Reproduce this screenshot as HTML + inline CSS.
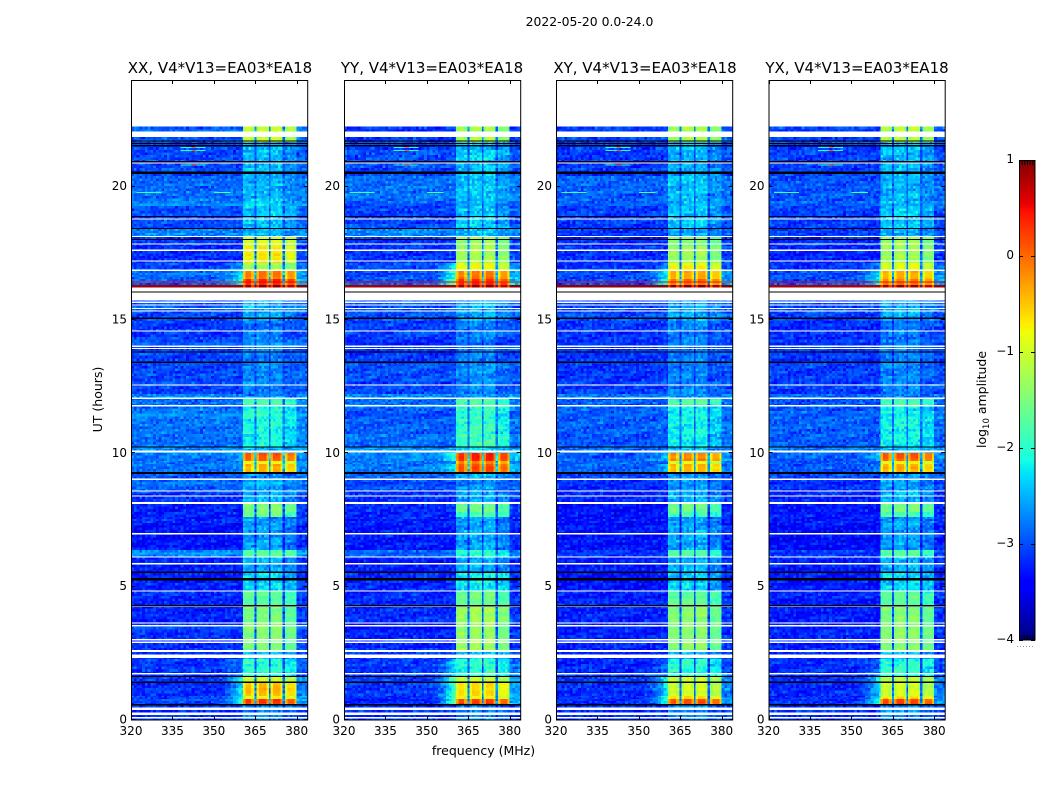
<!DOCTYPE html>
<html lang="en">
<head>
<meta charset="utf-8">
<title>2022-05-20 spectrogram</title>
<style>
html,body{margin:0;padding:0;background:#fff;}
svg{display:block;}
text{font-family:"DejaVu Sans","Liberation Sans",sans-serif;fill:#000;}
</style>
</head>
<body>
<svg id="figure" xmlns="http://www.w3.org/2000/svg" width="1050" height="800" viewBox="0 0 1050 800">
  <rect x="0" y="0" width="1050" height="800" fill="#fff"/>
  <text x="589.5" y="26" font-size="12.4" text-anchor="middle">2022-05-20 0.0-24.0</text>
  <text x="220" y="73" font-size="15" text-anchor="middle">XX, V4*V13=EA03*EA18</text>
  <text x="432" y="73" font-size="15" text-anchor="middle">YY, V4*V13=EA03*EA18</text>
  <text x="645" y="73" font-size="15" text-anchor="middle">XY, V4*V13=EA03*EA18</text>
  <text x="857" y="73" font-size="15" text-anchor="middle">YX, V4*V13=EA03*EA18</text>
  <text x="483.5" y="755" font-size="12.5" text-anchor="middle">frequency (MHz)</text>
  <text x="0" y="0" font-size="12.5" text-anchor="middle" transform="translate(102,399.5) rotate(-90)">UT (hours)</text>
  <text x="0" y="0" font-size="12.5" text-anchor="middle" transform="translate(986,399.5) rotate(-90)">log<tspan font-size="8.5" dy="3">10</tspan><tspan dy="-3"> amplitude</tspan></text>
  <g id="panels"></g>
  <g id="colorbar"></g>
  <line x1="1017" y1="646.5" x2="1035" y2="646.5" stroke="#999" stroke-width="1" stroke-dasharray="1 2"/>
</svg>
<script>
// ---- Axis data ----
const panelNames = ['xx', 'yy', 'xy', 'yx'];
const freqTicks = [320, 335, 350, 365, 380];
const utTicks = [0, 5, 10, 15, 20];
const colorTicks = [1, 0, -1, -2, -3, -4];
const colorTickLabels = ['1', '0', '\u22121', '\u22122', '\u22123', '\u22124'];

// ---- Channel layout (MHz); channelBand: -1 = background, -2 = gap, 0..3 = sub-band ----
const freqEdges = [320,321,322,323,324,325,326,327,328,329,330,331,332,333,334,335,336,337,338,339,340,341,342,343,344,345,346,347,348,349,350,351,352,353,354,355,356,357,358,359,360,360.5,361.5,362.5,363.5,364.8,365.5,366.4,367.3,368.2,369.1,369.9,370.6,371.5,372.4,373.3,374.1,374.9,375.7,376.6,377.5,378.4,379.2,380,381,382,383,384];
const channelBand = [-1,-1,-1,-1,-1,-1,-1,-1,-1,-1,-1,-1,-1,-1,-1,-1,-1,-1,-1,-1,-1,-1,-1,-1,-1,-1,-1,-1,-1,-1,-1,-1,-1,-1,-1,-1,-1,-1,-1,-1,-1,0,0,0,0,-2,1,1,1,1,1,-2,2,2,2,2,2,-2,3,3,3,3,3,-1,-1,-1,-1];
const subbandOffset = [0.05, 0.1, 0.1, -0.12];

// ---- Time bands (UT hours), values are log10 amplitude per band ----
const utEdges = [0,0.58,0.81,0.92,1.41,1.63,2.31,2.61,4.29,4.86,5.53,6.13,6.39,7.41,7.63,7.82,8.12,8.6,9.02,9.24,9.62,9.73,10.03,10.25,11.79,12.09,12.24,13.48,14.98,15.73,16.24,16.33,16.55,16.85,17.15,17.79,18.13,18.43,19.29,20.42,21.69,22.25];
const bgXX = [-3.15,-3.15,-3.15,-3.15,-3.1,-3.15,-3.15,-3.2,-3.2,-3.25,-3.25,-2.8,-3.3,-3.25,-3.25,-3.25,-3.15,-2.95,-2.95,-2.8,-2.8,-2.8,-2.7,-2.85,-2.85,-2.7,-3.05,-3.1,-3,-3.05,0.85,-2.95,-2.95,-3.05,-3.15,-3.15,-2.75,-3.05,-2.85,-3.05,-3.05];
const bgYY = [-3.15,-3.15,-3.15,-3.15,-3.1,-3.15,-3.15,-3.2,-3.2,-3.25,-3.25,-2.8,-3.3,-3.25,-3.25,-3.25,-3.15,-2.95,-2.95,-2.8,-2.8,-2.75,-2.7,-2.9,-2.85,-2.7,-3.05,-3.1,-3,-3.05,0.85,-2.95,-2.95,-3.05,-3.15,-3.15,-2.75,-3.05,-2.85,-3.05,-3.05];
const bgXY = [-3.2,-3.2,-3.2,-3.2,-3.15,-3.2,-3.2,-3.25,-3.25,-3.3,-3.3,-3.15,-3.35,-3.3,-3.3,-3.3,-3.25,-3.2,-3.05,-2.95,-2.95,-2.95,-2.8,-2.95,-2.95,-2.85,-3.1,-3.15,-3.05,-3.1,0.85,-3.05,-3.05,-3.15,-3.2,-3.2,-3.1,-3.1,-2.95,-3.1,-3.1];
const bgYX = [-3.2,-3.2,-3.2,-3.2,-3.15,-3.2,-3.2,-3.25,-3.25,-3.3,-3.3,-3.15,-3.35,-3.3,-3.3,-3.3,-3.25,-3.2,-3.05,-2.95,-2.95,-2.95,-2.8,-2.95,-2.95,-2.85,-3.1,-3.15,-3.05,-3.1,0.85,-3.05,-3.05,-3.15,-3.2,-3.2,-3.1,-3.1,-2.95,-3.1,-3.1];
const blockXX = [-2.8,0.15,-0.9,-0.45,-1,-2.1,-2.5,-1.55,-1.75,-2.4,-2.6,-1.85,-2.65,-2.7,-1.7,-1.5,-2.6,-2.7,-2.7,-0.4,-0.8,0.05,-2.5,-2.2,-1.85,-2.8,-2.8,-2.85,-2.6,-2.8,0.85,0.3,-0.2,-1.3,-0.7,-1,-2.6,-2.5,-2.55,-2.55,-1.15];
const blockYY = [-2.8,0.2,-0.8,-0.7,-1.1,-2.1,-2.5,-1.35,-1.65,-2.3,-2.6,-1.95,-2.65,-2.7,-1.9,-1.7,-2.6,-2.7,-2.6,0.1,-0.2,0.3,-2.4,-2,-1.85,-2.7,-2.8,-2.85,-2.6,-2.8,0.85,0.3,-0.1,-0.9,-1.3,-1.4,-2.6,-2.45,-2.5,-2.5,-1.2];
const blockXY = [-2.8,0.1,-0.7,-1.05,-1.15,-2.1,-2.5,-1.5,-1.75,-2.4,-2.6,-1.85,-2.65,-2.7,-1.9,-1.6,-2.6,-2.7,-2.7,-0.5,-1,-0.2,-2.5,-2.25,-1.85,-2.8,-2.8,-2.85,-2.6,-2.8,0.85,-0.1,-0.4,-0.8,-1.4,-1.5,-2.6,-2.5,-2.55,-2.55,-1.3];
const blockYX = [-2.8,0.1,-0.7,-1,-1.1,-2.1,-2.5,-1.5,-1.75,-2.4,-2.6,-1.85,-2.65,-2.7,-1.9,-1.6,-2.6,-2.7,-2.7,-0.4,-0.8,0,-2.5,-2.25,-1.85,-2.8,-2.8,-2.85,-2.6,-2.8,0.85,-0.2,-0.5,-0.9,-1.3,-1.4,-2.6,-2.5,-2.55,-2.55,-1.2];
const shoulderLevels = [-9,-1.9,-2,-2.2,-2,-2.8,-9,-9,-9,-9,-9,-9,-9,-9,-9,-9,-9,-9,-9,-2.6,-9,-2.4,-9,-9,-9,-9,-9,-9,-9,-9,-9,-1.9,-2.2,-2.6,-9,-9,-9,-9,-9,-9,-9];
const shoulderGain = [0, 0.5, 0, 0];

// ---- Flagged rows (UT hour centre and thickness in hours) ----
const whiteRowUT = [21.97,20.89,18.79,18.13,17.85,17.62,17.21,16.87,16.14,15.88,15.67,15.56,15.43,15.34,14.59,14.02,13.93,12.56,12.06,11.79,10.07,9.03,8.59,8.4,8.14,6.98,6.11,5.86,4.84,4.26,3.64,3.54,3.01,2.91,2.59,2.39,1.73,0.42,0.24,0.09];
const whiteRowSize = [0.2,0.05,0.05,0.05,0.05,0.05,0.05,0.05,0.17,0.3,0.05,0.05,0.05,0.05,0.05,0.05,0.05,0.05,0.05,0.05,0.08,0.05,0.05,0.05,0.08,0.05,0.05,0.05,0.05,0.05,0.05,0.05,0.05,0.05,0.08,0.13,0.05,0.09,0.09,0.05];
const blackRowUT = [21.71,21.62,21.54,20.94,20.55,20.5,18.88,18.43,18.02,16.05,15.07,13.8,13.42,10.24,9.26,5.54,5.28,4.29,1.63,1.42,0.57];
const blackRowSize = [0.05,0.05,0.05,0.05,0.05,0.05,0.05,0.05,0.05,0.05,0.05,0.05,0.05,0.05,0.08,0.05,0.09,0.05,0.05,0.05,0.05];

// ---- Narrow interference streaks ----
const streakUT = [21.46,21.46,21.36,21.36,20.81,20.81,19.78,19.78,16.42];
const streakFreqStart = [338,342,338,342,338,342,322,350,320];
const streakFreqEnd = [347,343.5,347,343.5,347,343.5,331,356,384];
const streakLevel = [-2,0,-2,0.1,-2,0,-1.9,-1.8,0.5];

// ---- Display grain only: hand-typed small offsets that give cells a speckled look ----
const grainA = [0.6,-0.9,0.2,0.8,-0.4,-0.7,0.9,0.1,-0.2,0.5,-1,0.3,0.7,-0.6,-0.1,0.4,-0.8,1,-0.3,0,0.6,-0.5,0.2,-0.9,0.8,-0.2,0.3,-0.7,0.5,0.9,-0.4];
const grainB = [-0.3,0.7,-0.8,0.1,0.9,-0.5,0.4,-1,0.6,0.2,-0.2,0.8,-0.7,0.3,-0.4,1,-0.6,0,0.5,-0.9,0.7,-0.1,0.3,-0.5,0.9,-0.8,0.2,0.6,-0.3];

const panelBg = [bgXX, bgYY, bgXY, bgYX];
const panelBlock = [blockXX, blockYY, blockXY, blockYX];

// ---- Geometry (positions belong here, not in the data) ----
const panelLeft = [131, 344, 556, 768.5];
const panelWidth = 176.7;
const plotTop = 80, plotBottom = 720;
const freqMin = 320, freqMax = 384, utMin = 0, utMax = 24;
const rowStep = 0.1;
const SVGNS = 'http://www.w3.org/2000/svg';

function jet(v) {
  const t = Math.max(0, Math.min(1, (v + 4) / 5));
  const clamp = x => Math.max(0, Math.min(1, x));
  let r, g, b;
  r = t < 0.35 ? 0 : t < 0.66 ? (t - 0.35) / 0.31 : t < 0.89 ? 1 : 1 - (t - 0.89) / 0.11 * 0.5;
  g = t < 0.125 ? 0 : t < 0.375 ? (t - 0.125) / 0.25 : t < 0.64 ? 1 : t < 0.91 ? 1 - (t - 0.64) / 0.27 : 0;
  b = t < 0.11 ? 0.5 + t / 0.11 * 0.5 : t < 0.34 ? 1 : t < 0.65 ? 1 - (t - 0.34) / 0.31 : 0;
  return 'rgb(' + Math.round(clamp(r) * 255) + ',' + Math.round(clamp(g) * 255) + ',' + Math.round(clamp(b) * 255) + ')';
}
function xScale(panel, f) {
  return panelLeft[panel] + (f - freqMin) / (freqMax - freqMin) * panelWidth;
}
function yScale(h) {
  return plotBottom - (h - utMin) / (utMax - utMin) * (plotBottom - plotTop);
}
function colorY(v) {
  return 640 - (v + 4) / 5 * 480;
}
function rectFor(parent, x, y, w, h, fill) {
  const el = document.createElementNS(SVGNS, 'rect');
  el.setAttribute('x', x);
  el.setAttribute('y', y);
  el.setAttribute('width', w);
  el.setAttribute('height', h);
  el.setAttribute('fill', fill);
  parent.appendChild(el);
  return el;
}
function lineFor(parent, x1, y1, x2, y2) {
  const el = document.createElementNS(SVGNS, 'line');
  el.setAttribute('x1', x1);
  el.setAttribute('y1', y1);
  el.setAttribute('x2', x2);
  el.setAttribute('y2', y2);
  el.setAttribute('stroke', '#000');
  el.setAttribute('stroke-width', '1');
  parent.appendChild(el);
  return el;
}
function textFor(parent, x, y, str, anchor) {
  const el = document.createElementNS(SVGNS, 'text');
  el.setAttribute('x', x);
  el.setAttribute('y', y);
  el.setAttribute('font-size', '12');
  el.setAttribute('text-anchor', anchor);
  el.textContent = str;
  parent.appendChild(el);
  return el;
}
function channelValue(panel, band, col) {
  const bg = panelBg[panel][band];
  const block = panelBlock[panel][band];
  const kind = channelBand[col];
  if (kind >= 0) {
    const isEdge = channelBand[col - 1] !== kind || channelBand[col + 1] !== kind;
    const strength = Math.max(0, block + 2) / 2;
    return block + subbandOffset[kind] - (isEdge ? 0.45 * strength : 0);
  }
  if (kind === -2) return bg + 0.15 * (block - bg);
  const f = freqEdges[col];
  const sh = shoulderLevels[band];
  if (sh > -9 && f >= 350) {
    const target = sh + shoulderGain[panel];
    if (f >= 380) return Math.max(bg + 0.1, bg + 0.4 * (target - bg));
    const w = (f - 350) / 10;
    return Math.max(bg, bg + w * w * (target - bg));
  }
  if (f >= 380) return bg + 0.1;
  return bg;
}

const panelsRoot = document.getElementById('panels');
for (let p = 0; p < panelNames.length; p++) {
  const g = document.createElementNS(SVGNS, 'g');
  
  
  panelsRoot.appendChild(g);

  const cells = document.createElementNS(SVGNS, 'g');
  
  
  cells.setAttribute('shape-rendering', 'crispEdges');
  g.appendChild(cells);

  let rowCounter = 0;
  for (let b = 0; b < utEdges.length - 1; b++) {
    const t0 = utEdges[b], t1 = utEdges[b + 1];
    const rows = Math.max(1, Math.ceil((t1 - t0) / rowStep));
    for (let r = 0; r < rows; r++) {
      rowCounter++;
      const h0 = t0 + (t1 - t0) * r / rows;
      const h1 = t0 + (t1 - t0) * (r + 1) / rows;
      const yTop = yScale(h1), yBot = yScale(h0);
      const rowTone = grainB[(rowCounter * 3 + p) % grainB.length] * 0.08;
      for (let c = 0; c < freqEdges.length - 1; c++) {
        const base = channelValue(p, b, c);
        const amp = base < -1.8 ? 0.32 : base < -1 ? 0.18 : base < 0.7 ? 0.07 : 0.02;
        const n = grainA[(rowCounter * 7 + c * 11 + p * 5) % grainA.length] * 0.6 +
                  grainB[(rowCounter * rowCounter * 3 + c * 13 + rowCounter * c * 5 + p) % grainB.length] * 0.6;
        const v = base + n * amp + rowTone;
        const x0 = xScale(p, freqEdges[c]), x1 = xScale(p, freqEdges[c + 1]);
        const cell = rectFor(cells, x0.toFixed(2), yTop.toFixed(2), (x1 - x0 + 0.4).toFixed(2), (yBot - yTop + 0.4).toFixed(2), jet(v));
        
        
      }
    }
  }

  for (let i = 0; i < streakUT.length; i++) {
    const x0 = xScale(p, streakFreqStart[i]), x1 = xScale(p, streakFreqEnd[i]);
    const streak = rectFor(cells, x0, yScale(streakUT[i]) - 0.5, x1 - x0, 1, jet(streakLevel[i]));
    
    
  }
  const flagged = document.createElementNS(SVGNS, 'g');
  
  
  flagged.setAttribute('shape-rendering', 'crispEdges');
  g.appendChild(flagged);
  for (let i = 0; i < whiteRowUT.length; i++) {
    const yc = yScale(whiteRowUT[i]);
    const hgt = Math.max(1, yScale(whiteRowUT[i] - whiteRowSize[i]) - yScale(whiteRowUT[i]));
    const row = rectFor(flagged, panelLeft[p], yc - hgt / 2, panelWidth, hgt, '#fff');
    
    
  }
  for (let i = 0; i < blackRowUT.length; i++) {
    const yc = yScale(blackRowUT[i]);
    const hgt = Math.max(1, yScale(blackRowUT[i] - blackRowSize[i]) - yScale(blackRowUT[i]));
    const row = rectFor(flagged, panelLeft[p], yc - hgt / 2, panelWidth, hgt, '#000');
    
    
  }

  const frame = rectFor(g, panelLeft[p] + 0.5, plotTop + 0.5, panelWidth - 0.5, plotBottom - plotTop - 0.5, 'none');
  frame.setAttribute('stroke', '#000');
  frame.setAttribute('stroke-width', '1');
  
  

  for (const f of freqTicks) {
    const x = Math.round(xScale(p, f)) + 0.5;
    const topTick = lineFor(g, x, plotTop, x, plotTop + 4);
    
    
    const botTick = lineFor(g, x, plotBottom, x, plotBottom - 4);
    
    
    const label = textFor(g, xScale(p, f), plotBottom + 15, String(f), 'middle');
    
    
  }
  for (const h of utTicks) {
    const y = Math.round(yScale(h)) - 0.5;
    const leftTick = lineFor(g, panelLeft[p], y, panelLeft[p] + 4, y);
    
    
    const rightTick = lineFor(g, panelLeft[p] + panelWidth, y, panelLeft[p] + panelWidth - 4, y);
    
    
    const label = textFor(g, panelLeft[p] - 4, yScale(h) + 3.5, String(h), 'end');
    
    
  }
}

// ---- Colorbar ----
const cb = document.getElementById('colorbar');
const cbLeft = 1019, cbRight = 1035;
const cbCells = document.createElementNS(SVGNS, 'g');


cbCells.setAttribute('shape-rendering', 'crispEdges');
cb.appendChild(cbCells);
for (let y = 160; y < 640; y += 2) {
  const v = -4 + (640 - y - 1) / 480 * 5;
  const seg = rectFor(cbCells, cbLeft, y, cbRight - cbLeft, 2, jet(v));
  
  
}
const cbFrame = rectFor(cb, cbLeft + 0.5, 160.5, cbRight - cbLeft - 0.5, 479.5, 'none');
cbFrame.setAttribute('stroke', '#000');
cbFrame.setAttribute('stroke-width', '1');


for (let i = 0; i < colorTicks.length; i++) {
  const y = Math.round(colorY(colorTicks[i])) + 0.5;
  const tl = lineFor(cb, cbLeft, y, cbLeft + 4, y);
  
  
  const tr = lineFor(cb, cbRight, y, cbRight - 4, y);
  
  
  const label = textFor(cb, cbLeft - 5, colorY(colorTicks[i]) + 3, colorTickLabels[i], 'end');
  
  
}
for (let i = 1; i < 6; i++) {
  const x = cbLeft + 0.5 + (cbRight - cbLeft) * i / 6;
  const topMark = lineFor(cb, x, 160, x, 165);
  
  
  const botMark = lineFor(cb, x, 640, x, 635);
  
  
}
</script>
</body>
</html>
